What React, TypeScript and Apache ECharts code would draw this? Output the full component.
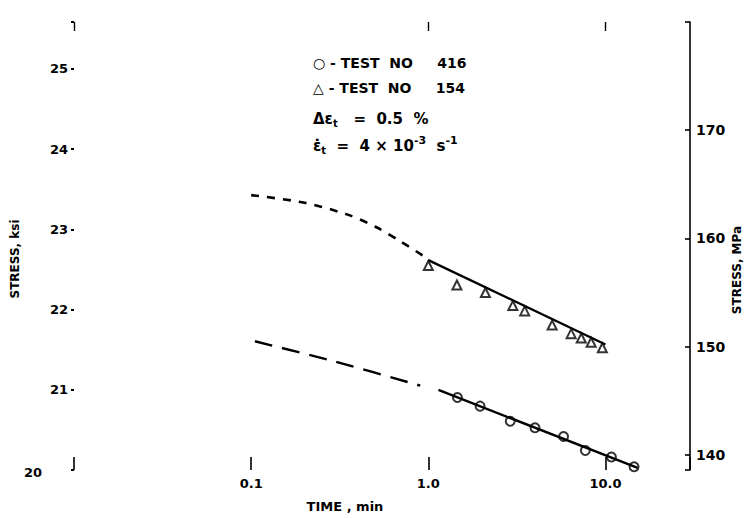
import { useEffect, useRef } from "react";
import * as echarts from "echarts";

// Tick labels
const timeTickValues = [0.1, 1, 10];
const timeTickLabels = ["0.1", "1.0", "10.0"];
const topTickDecades = [-2, 0, 1]; // log10(time) of the marks along the top edge
const ksiTicks = [20, 21, 22, 23, 24, 25];
const mpaTicks = [140, 150, 160, 170];

// Test No 154 (triangles)
const t154DashTime = [0.1, 0.2, 0.35, 0.5, 0.7, 1.0];
const t154DashStress = [164.0, 163.3, 162.2, 161.1, 159.7, 158.1];
const t154FitTime = [1.0, 10.0];
const t154FitStress = [158.0, 150.2];
const t154Time = [1.0, 1.45, 2.1, 3.0, 3.5, 5.0, 6.4, 7.3, 8.3, 9.6];
const t154Stress = [157.5, 155.7, 155.0, 153.8, 153.3, 152.0, 151.2, 150.8, 150.4, 149.9];

// Test No 416 (circles)
const t416DashTime = [0.105, 0.3, 0.9];
const t416DashStress = [150.5, 148.6, 146.4];
const t416FitTime = [1.14, 15.2];
const t416FitStress = [146.0, 138.8];
const t416Time = [1.46, 1.96, 2.9, 4.0, 5.8, 7.7, 10.8, 14.5];
const t416Stress = [145.3, 144.5, 143.1, 142.5, 141.7, 140.4, 139.8, 138.9];

const zip = (a: number[], b: number[]) => a.map((v, i) => [v, b[i]]);

const FONT = "DejaVu Sans";

export default function App() {
  const ref = useRef<HTMLDivElement>(null);
  useEffect(() => {
    if (!ref.current) return;
    const chart = echarts.init(ref.current, null, { renderer: "svg" });
    const near = (v: number, w: number) => Math.abs(v - w) < 1e-6 * Math.max(1, Math.abs(w));
    const txt = { fontFamily: FONT, fontWeight: "bold" as const, fontSize: 13, color: "#000" };
    const f14 = `bold 14px '${FONT}'`;
    chart.setOption({
      animation: false,
      backgroundColor: "#fff",
      grid: { left: 74, right: 58, top: 22, bottom: 48, containLabel: false, outerBoundsMode: "none" },
      xAxis: [
        {
          type: "log",
          logBase: 10,
          min: 0.01,
          max: 30,
          position: "bottom",
          axisLine: { show: false, onZero: false },
          axisTick: { show: true, inside: true, length: 13, lineStyle: { color: "#000", width: 1.6 } },
          splitLine: { show: false },
          axisLabel: {
            ...txt,
            margin: 7,
            formatter: (v: number) => {
              const i = timeTickValues.findIndex((w) => near(v, w));
              return i >= 0 ? timeTickLabels[i] : "";
            },
          },
          name: "TIME , min",
          nameLocation: "middle",
          nameGap: 30,
          nameMoveOverlap: false,
          nameTextStyle: { ...txt, fontSize: 13, padding: [0, 74, 0, 0] },
        },
        {
          type: "value",
          min: -2,
          max: Math.log10(30),
          position: "top",
          axisLine: { show: false, onZero: false },
          axisTick: {
            show: true,
            inside: true,
            length: 9,
            customValues: topTickDecades,
            lineStyle: { color: "#000", width: 1.4 },
          },
          splitLine: { show: false },
          axisLabel: { show: false },
        },
      ],
      yAxis: [
        {
          type: "value",
          position: "left",
          min: 20,
          max: 25.586,
          interval: 1,
          axisLine: { show: false, onZero: false },
          axisTick: { show: true, length: 3, lineStyle: { color: "#000", width: 2 } },
          splitLine: { show: false },
          axisLabel: {
            ...txt,
            margin: 6,
            formatter: (v: number) => {
              if (!ksiTicks.some((w) => near(v, w))) return "";
              const s = String(Math.round(v));
              return near(v, ksiTicks[0]) ? `{z|${s}}` : s;
            },
            rich: { z: { ...txt, padding: [4, 26, 0, 0] } },
          },
          name: "STRESS, ksi",
          nameLocation: "middle",
          nameGap: 53,
          nameMoveOverlap: false,
          nameRotate: 90,
          nameTextStyle: { ...txt, fontSize: 12, padding: [0, 26, 0, 0] },
        },
        {
          type: "value",
          position: "right",
          min: 138.6,
          max: 180,
          axisLine: { show: true, onZero: false, lineStyle: { color: "#000", width: 1.6 } },
          axisTick: { show: true, inside: true, length: 5, lineStyle: { color: "#000", width: 1.6 } },
          splitLine: { show: false },
          axisLabel: {
            ...txt,
            fontSize: 14,
            margin: 6,
            formatter: (v: number) => (mpaTicks.some((w) => near(v, w)) ? String(Math.round(v)) : ""),
          },
          name: "STRESS, MPa",
          nameLocation: "middle",
          nameGap: 41,
          nameMoveOverlap: false,
          nameRotate: 90,
          nameTextStyle: { ...txt, fontSize: 12, padding: [0, 48, 0, 0] },
        },
      ],
      graphic: [
        {
          type: "group",
          left: 313,
          top: 56,
          children: [
            { type: "text", x: 0, y: 0, style: { text: "○ - TEST  NO     416", font: f14, fill: "#000" } },
            { type: "text", x: 0, y: 25, style: { text: "△ - TEST  NO     154", font: f14, fill: "#000" } },
            {
              type: "text",
              x: 0,
              y: 54,
              style: {
                text: "Δε{s|t}   =  0.5  %",
                font: `bold 15px '${FONT}'`,
                fill: "#000",
                rich: { s: { fontSize: 10, fontWeight: "bold", fontFamily: FONT, padding: [8, 0, 0, 0] } },
              },
            },
            {
              type: "text",
              x: 0,
              y: 79,
              style: {
                text: "ε̇{s|t}  =  4 × 10{p|-3}  s{p|-1}",
                font: `bold 15px '${FONT}'`,
                fill: "#000",
                rich: {
                  s: { fontSize: 10, fontWeight: "bold", fontFamily: FONT, padding: [8, 0, 0, 0] },
                  p: { fontSize: 11, fontWeight: "bold", fontFamily: FONT, padding: [0, 0, 11, 0] },
                },
              },
            },
          ],
        },
      ],
      series: [
        {
          type: "line",
          xAxisIndex: 0,
          yAxisIndex: 1,
          data: zip(t154DashTime, t154DashStress),
          smooth: 0.3,
          symbol: "none",
          lineStyle: { color: "#000", width: 2.6, type: [8, 8] },
        },
        {
          type: "line",
          xAxisIndex: 0,
          yAxisIndex: 1,
          data: zip(t154FitTime, t154FitStress),
          symbol: "none",
          lineStyle: { color: "#000", width: 2.4 },
        },
        {
          type: "line",
          xAxisIndex: 0,
          yAxisIndex: 1,
          data: zip(t416DashTime, t416DashStress),
          smooth: 0.3,
          symbol: "none",
          lineStyle: { color: "#000", width: 2.4, type: [18, 10] },
        },
        {
          type: "line",
          xAxisIndex: 0,
          yAxisIndex: 1,
          data: zip(t416FitTime, t416FitStress),
          symbol: "none",
          lineStyle: { color: "#000", width: 2.4 },
        },
        {
          type: "scatter",
          xAxisIndex: 0,
          yAxisIndex: 1,
          data: zip(t154Time, t154Stress),
          symbol: "triangle",
          symbolSize: 9,
          itemStyle: { color: "#fff", borderColor: "#000", borderWidth: 2 },
        },
        {
          type: "scatter",
          xAxisIndex: 0,
          yAxisIndex: 1,
          data: zip(t416Time, t416Stress),
          symbol: "circle",
          symbolSize: 9,
          itemStyle: { color: "#fff", borderColor: "#000", borderWidth: 2 },
        },
      ],
    });
    return () => chart.dispose();
  }, []);
  return (
    <div
      ref={ref}
      style={{ position: "fixed", left: 0, top: 0, width: 748, height: 518, background: "#fff" }}
    />
  );
}
